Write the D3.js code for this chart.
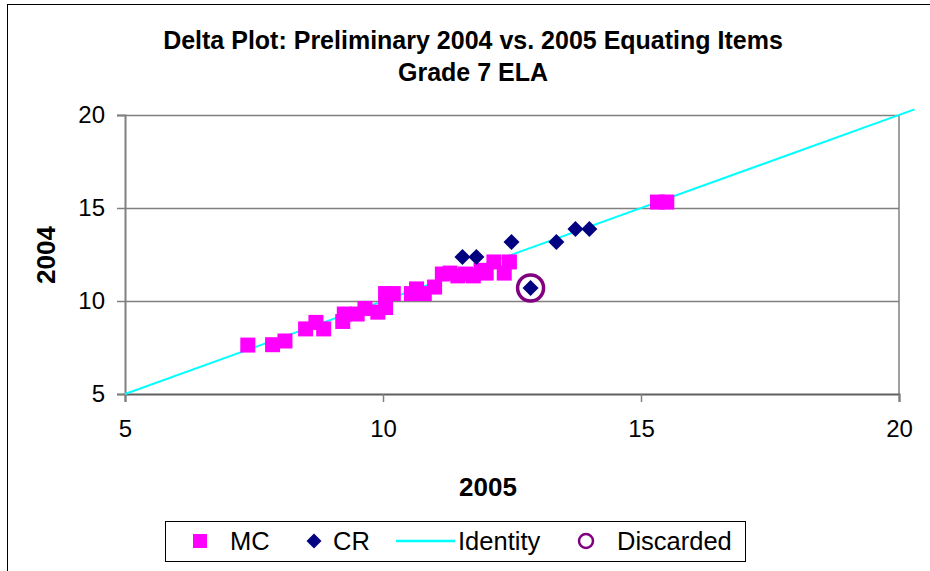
<!DOCTYPE html>
<html><head><meta charset="utf-8">
<script src="https://cdn.jsdelivr.net/npm/d3@7"></script>
<style>body{margin:0;background:#fff;font-family:"Liberation Sans",Arial,sans-serif;}</style>
</head><body>
<svg id="c" width="930" height="571"></svg>
<script>
const titleLines = ["Delta Plot: Preliminary 2004 vs. 2005 Equating Items", "Grade 7 ELA"];
const xTitle = "2005", yTitle = "2004";
const ticks = [5, 10, 15, 20];
// MC items: [2005 delta, 2004 delta]
const mcX = [7.38,7.86,8.1,8.5,8.7,8.85,9.22,9.25,9.5,9.65,9.9,10.05,10.05,10.2,10.55,10.65,10.8,11.0,11.15,11.3,11.45,11.6,11.75,11.9,12.0,12.15,12.35,12.45,15.32,15.5];
const mcY = [7.63,7.65,7.85,8.5,8.85,8.5,8.9,9.3,9.3,9.6,9.4,9.65,10.4,10.4,10.4,10.65,10.4,10.75,11.45,11.5,11.35,11.45,11.35,11.65,11.5,12.1,11.5,12.1,15.32,15.32];
// CR items
const crX = [11.54,11.81,12.49,13.36,13.73,14.0,12.86];
const crY = [12.37,12.37,13.17,13.17,13.87,13.87,10.7];
// Discarded items
const discX = [12.86];
const discY = [10.7];
// Identity line endpoints
const idLine = [5, 20.3];

const svg = d3.select("#c");
const L = 125, R = 899, T = 115, B = 394;
const x = d3.scaleLinear().domain([5, 20]).range([L, R]);
const y = d3.scaleLinear().domain([5, 20]).range([B, T]);

// outer frame
svg.append("rect").attr("x", 7.5).attr("y", 4.5).attr("width", 1000).attr("height", 1000)
  .attr("fill", "none").attr("stroke", "#000").attr("stroke-width", 1);

// title
svg.append("g").selectAll("text").data(titleLines).join("text")
  .attr("x", 473).attr("y", (d, i) => 49 + i * 32).attr("text-anchor", "middle")
  .attr("font-size", 25).attr("font-weight", "bold").text(d => d);

// gridlines
svg.append("g").selectAll("line").data(ticks.slice(1)).join("line")
  .attr("x1", L).attr("x2", R).attr("y1", d => y(d) + 0.5).attr("y2", d => y(d) + 0.5)
  .attr("stroke", "#808080").attr("stroke-width", 1.5);
// right border
svg.append("line").attr("x1", R).attr("x2", R).attr("y1", T).attr("y2", B)
  .attr("stroke", "#808080").attr("stroke-width", 1.5);

// axes
const xa = svg.append("g").attr("transform", `translate(0,${B})`)
  .call(d3.axisBottom(x).tickValues(ticks).tickSize(8).tickPadding(18).tickFormat(d3.format("d")));
const ya = svg.append("g").attr("transform", `translate(${L},0)`)
  .call(d3.axisLeft(y).tickValues(ticks).tickSize(8).tickPadding(12).tickFormat(d3.format("d")));
[xa, ya].forEach(a => {
  a.select(".domain").attr("stroke", "#808080").attr("stroke-width", 2);
  a.selectAll(".tick line").attr("stroke", "#808080").attr("stroke-width", 1.5);
  a.selectAll(".tick text").attr("font-size", 24).attr("font-family", "Liberation Sans, Arial, sans-serif").attr("fill", "#000");
});
xa.select(".domain").attr("stroke", "#606060");

// axis titles
svg.append("text").attr("x", 488).attr("y", 496).attr("text-anchor", "middle")
  .attr("font-size", 26).attr("font-weight", "bold").text(xTitle);
svg.append("text").attr("transform", "translate(55,255) rotate(-90)").attr("text-anchor", "middle")
  .attr("font-size", 26).attr("font-weight", "bold").text(yTitle);

// identity line
svg.append("line").attr("x1", x(idLine[0])).attr("y1", y(idLine[0]))
  .attr("x2", x(idLine[1])).attr("y2", y(idLine[1]))
  .attr("stroke", "#00FFFF").attr("stroke-width", 2);

// MC squares
const sq = 15;
svg.append("g").selectAll("rect").data(d3.range(mcX.length)).join("rect")
  .attr("x", i => x(mcX[i]) - sq / 2).attr("y", i => y(mcY[i]) - sq / 2)
  .attr("width", sq).attr("height", sq).attr("fill", "#FF00FF");

// CR diamonds
const dia = d3.symbol().type(d3.symbolSquare).size(128);
svg.append("g").selectAll("path").data(d3.range(crX.length)).join("path")
  .attr("d", dia).attr("transform", i => `translate(${x(crX[i])},${y(crY[i])}) rotate(45)`)
  .attr("fill", "#000080");

// Discarded circles
svg.append("g").selectAll("circle").data(d3.range(discX.length)).join("circle")
  .attr("cx", i => x(discX[i])).attr("cy", i => y(discY[i])).attr("r", 13)
  .attr("fill", "none").attr("stroke", "#800080").attr("stroke-width", 3.5);

// legend
const lg = svg.append("g");
lg.append("rect").attr("x", 165.5).attr("y", 521.5).attr("width", 580).attr("height", 40)
  .attr("fill", "#fff").attr("stroke", "#000");
const ly = 541;
lg.append("rect").attr("x", 193).attr("y", ly - 7).attr("width", 14).attr("height", 14).attr("fill", "#FF00FF");
lg.append("path").attr("d", d3.symbol().type(d3.symbolSquare).size(112)).attr("transform", `translate(314,${ly}) rotate(45)`).attr("fill", "#000080");
lg.append("line").attr("x1", 396).attr("x2", 455).attr("y1", ly).attr("y2", ly).attr("stroke", "#00FFFF").attr("stroke-width", 2.5);
lg.append("circle").attr("cx", 586).attr("cy", ly).attr("r", 7).attr("fill", "none").attr("stroke", "#800080").attr("stroke-width", 2.5);
const ltxt = [["MC", 230], ["CR", 333], ["Identity", 458], ["Discarded", 617]];
lg.selectAll("text.l").data(ltxt).join("text").attr("class", "l")
  .attr("x", d => d[1]).attr("y", ly + 9).attr("font-size", 25.5).text(d => d[0]);
</script>
</body></html>
